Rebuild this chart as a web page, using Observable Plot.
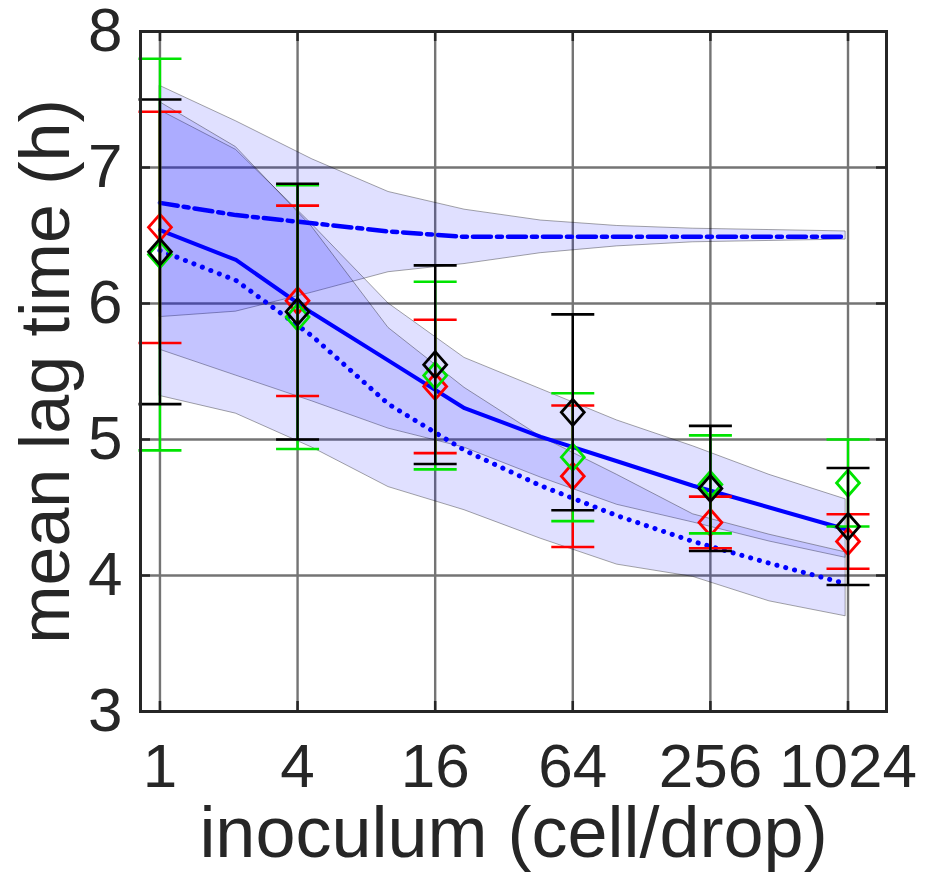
<!DOCTYPE html>
<html>
<head>
<meta charset="utf-8">
<script src="https://cdn.jsdelivr.net/npm/d3@7"></script>
<script src="https://cdn.jsdelivr.net/npm/@observablehq/plot@0.6"></script>
<style>
  html, body { margin: 0; padding: 0; background: #fff; }
  #chart { width: 934px; height: 881px; }
</style>
</head>
<body>
<div id="chart"></div>
<script>
// ---- axis ticks ----
const xTicks = [1, 4, 16, 64, 256, 1024];
const yTicks = [3, 4, 5, 6, 7, 8];

// ---- model curves (x in cells/drop) ----
const xModel = [1, 2.15, 4.64, 10, 21.5, 46.4, 100, 215, 464, 1000];
// dash-dot model
const dashMean = [6.74, 6.65, 6.59, 6.53, 6.49, 6.49, 6.49, 6.49, 6.49, 6.49];
const dashLo   = [5.90, 5.94, 6.08, 6.23, 6.29, 6.37, 6.42, 6.45, 6.46, 6.47];
const dashHi   = [7.60, 7.34, 7.06, 6.82, 6.69, 6.61, 6.57, 6.55, 6.54, 6.53];
// solid model
const solidMean = [6.54, 6.32, 5.93, 5.58, 5.23, 5.02, 4.84, 4.66, 4.50, 4.34];
const solidLo   = [5.66, 5.47, 5.28, 5.08, 4.94, 4.72, 4.52, 4.39, 4.25, 4.13];
const solidHi   = [7.42, 7.13, 6.58, 6.00, 5.60, 5.37, 5.14, 4.95, 4.74, 4.56];
// dotted model
const dotMean = [6.39, 6.17, 5.76, 5.26, 4.92, 4.66, 4.44, 4.25, 4.09, 3.94];
const dotLo   = [5.32, 5.19, 4.94, 4.65, 4.48, 4.27, 4.08, 3.99, 3.81, 3.70];
const dotHi   = [7.48, 7.15, 6.56, 5.82, 5.38, 5.02, 4.74, 4.45, 4.30, 4.17];

// ---- experimental points (mean +/- error) ----
const xObs = [1, 4, 16, 64, 256, 1024];
const redMean   = [6.56, 6.02, 5.39, 4.73, 4.39, 4.25];
const redErr    = [0.85, 0.70, 0.49, 0.52, 0.19, 0.20];
const greenMean = [6.36, 5.90, 5.47, 4.87, 4.67, 4.68];
const greenErr  = [1.44, 0.97, 0.69, 0.47, 0.36, 0.32];
const blackMean = [6.38, 5.94, 5.55, 5.20, 4.64, 4.36];
const blackErr  = [1.12, 0.94, 0.73, 0.72, 0.46, 0.43];

// ---- tables ----
const band = (lo, mid, hi) => xModel.map((x, i) => ({x, lo: lo[i], mid: mid[i], hi: hi[i]}));
const dashT = band(dashLo, dashMean, dashHi);
const solidT = band(solidLo, solidMean, solidHi);
const dotT = band(dotLo, dotMean, dotHi);
const obs = (m, e) => xObs.map((x, i) => ({x, m: m[i], lo: m[i] - e[i], hi: m[i] + e[i]}));
const series = [
  {data: obs(redMean, redErr), color: "#ff0000"},
  {data: obs(greenMean, greenErr), color: "#00e400"},
  {data: obs(blackMean, blackErr), color: "#000000"}
];

// ---- custom symbols ----
const diamondSym = {draw(ctx, size) {
  const r = Math.sqrt(size / Math.PI), w = r * 0.88;
  ctx.moveTo(0, -r); ctx.lineTo(w, 0); ctx.lineTo(0, r); ctx.lineTo(-w, 0); ctx.closePath();
}};
const capSym = {draw(ctx, size) {
  const r = Math.sqrt(size / Math.PI);
  ctx.moveTo(-r, 0); ctx.lineTo(r, 0);
}};

const frameColor = "#262626";
const bandOpts = {x: "x", y1: "lo", y2: "hi", fill: "#0000ff", fillOpacity: 0.12,
  stroke: "#000", strokeOpacity: 0.35, strokeWidth: 1};

const marks = [
  Plot.gridX(xTicks, {stroke: "#747474", strokeOpacity: 1, strokeWidth: 2.4}),
  Plot.gridY(yTicks, {stroke: "#747474", strokeOpacity: 1, strokeWidth: 2.4}),
  Plot.areaY(dashT, bandOpts),
  Plot.areaY(solidT, bandOpts),
  Plot.areaY(dotT, bandOpts),
  Plot.line(dashT, {x: "x", y: "mid", stroke: "#0000ff", strokeWidth: 4.5, strokeDasharray: "18,6,5,6"}),
  Plot.line(solidT, {x: "x", y: "mid", stroke: "#0000ff", strokeWidth: 4}),
  Plot.line(dotT, {x: "x", y: "mid", stroke: "#0000ff", strokeWidth: 5, strokeDasharray: "0.1,9", strokeLinecap: "round"}),
];
for (const s of series) {
  marks.push(
    Plot.ruleX(s.data, {x: "x", y1: "lo", y2: "hi", stroke: s.color, strokeWidth: 2.4}),
    Plot.dot(s.data, {x: "x", y: "hi", symbol: capSym, r: 21.5, stroke: s.color, strokeWidth: 2.6}),
    Plot.dot(s.data, {x: "x", y: "lo", symbol: capSym, r: 21.5, stroke: s.color, strokeWidth: 2.6}),
    Plot.dot(s.data, {x: "x", y: "m", symbol: diamondSym, r: 13, stroke: s.color, fill: "none", strokeWidth: 2.8})
  );
}
marks.push(
  // inner ticks on all four sides
  Plot.ruleX(xTicks, {x: d => d, insetTop: 670, stroke: frameColor, strokeWidth: 2.5}),
  Plot.ruleX(xTicks, {x: d => d, insetBottom: 670, stroke: frameColor, strokeWidth: 2.5}),
  Plot.ruleY(yTicks, {y: d => d, insetRight: 736, stroke: frameColor, strokeWidth: 2.5}),
  Plot.ruleY(yTicks, {y: d => d, insetLeft: 736, stroke: frameColor, strokeWidth: 2.5}),
  Plot.frame({stroke: frameColor, strokeWidth: 3}),
  // tick labels
  Plot.text(xTicks, {x: d => d, frameAnchor: "bottom", lineAnchor: "middle", textAnchor: "middle",
    dy: 56, text: d => String(d), fontSize: 62, fill: frameColor}),
  Plot.text(yTicks, {y: d => d, frameAnchor: "left", lineAnchor: "middle", textAnchor: "end",
    dx: -18, text: d => String(d), fontSize: 62, fill: frameColor}),
  // axis titles
  Plot.text(["inoculum (cell/drop)"], {frameAnchor: "bottom", lineAnchor: "middle", textAnchor: "middle",
    dy: 122, text: d => d, fontSize: 72, fill: frameColor}),
  Plot.text(["mean lag time (h)"], {frameAnchor: "left", lineAnchor: "middle", textAnchor: "middle",
    dx: -94, rotate: -90, text: d => d, fontSize: 70, fill: frameColor})
);

const chart = Plot.plot({
  width: 934,
  height: 881,
  marginLeft: 140,
  marginRight: 48,
  marginTop: 31,
  marginBottom: 170,
  x: {type: "log", base: 2, domain: [0.822, 1509], axis: null},
  y: {domain: [3, 8], axis: null},
  style: {background: "#fff", fontFamily: "'Liberation Sans', Arial, Helvetica, sans-serif", overflow: "visible"},
  marks
});
document.getElementById("chart").appendChild(chart);
</script>
</body>
</html>
